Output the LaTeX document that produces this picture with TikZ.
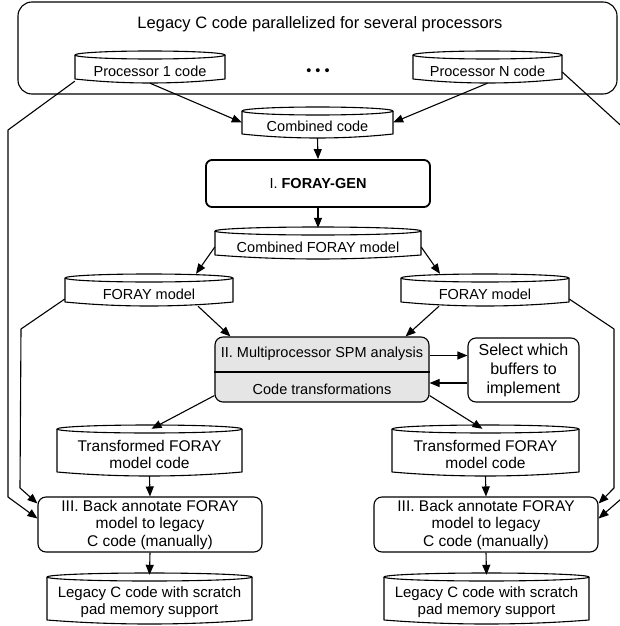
\documentclass[tikz,border=0pt]{standalone}
\usepackage{fontspec}
\setmainfont{Liberation Sans}
\usetikzlibrary{arrows.meta,calc}
\begin{document}
\begin{tikzpicture}[x=1pt,y=-1pt,
  ln/.style={line width=1.1pt, line join=round},
  arr/.style={ln, -{Triangle[length=10pt,width=8pt]}},
  txt/.style={inner sep=0pt, align=center, font=\fontsize{14.5}{17}\selectfont},
  big/.style={font=\fontsize{15.5}{17.5}\selectfont},
  rbox/.style={ln, draw, rounded corners=8pt, inner sep=0pt, align=center, font=\fontsize{14.5}{17}\selectfont},
]
\newcommand\cyl[7][]{%
  \node[txt, #1, minimum width={#3-#2}, minimum height={#5-#4-8}] (#2#3) at ({(#3+#4)/2},{(#5+8+#6)/2}) {#7};
}
\newcommand\cylinder[7][]{%
  \node[txt, #1, minimum width={#4-#3}, minimum height={#6-#5-8}] (#2) at ({(#3+#4)/2},{(#5+8+#6)/2}) {#7};
  \draw[ln] ({(#3+#4)/2},#5+4) ellipse [x radius={(#4-#3)/2}, y radius=4];
  \draw[ln] (#3,#5+4) -- (#3,#6-4) .. controls ({#3+(#4-#3)*0.33},#6+1.33) and ({#4-(#4-#3)*0.33},#6+1.33) .. (#4,#6-4) -- (#4,#5+4);
}
\clip (0,0) rectangle (620,626);
% top frame
\node[rbox, rounded corners=14pt, minimum width=599, minimum height=92] (frame) at (317.5,48) {};
\node[txt, font=\fontsize{16.5}{19}\selectfont] (title) at (320,24) {Legacy C code parallelized for several processors};
\cylinder{p1}{75}{225}{51}{83}{Processor 1 code}
\cylinder{pN}{413}{562}{51}{83}{Processor N code}
\node[txt] (dots) at (318,72) {• • •};
\cylinder{cc}{242}{393}{107}{138}{Combined code}
\node[rbox, line width=1.8pt, rounded corners=6pt, minimum width=224, minimum height=47] (gen) at (318,183.5) {I. \textbf{FORAY-GEN}};
\cylinder{cf}{215}{421}{227}{259}{Combined FORAY model}
\cylinder{fl}{65}{233}{274}{306}{FORAY model}
\cylinder{fr}{401}{569}{274}{306}{FORAY model}
\node[rbox, fill=black!10, minimum width=214, minimum height=65] (spm) at (322,369.5) {};
\draw[ln] ([yshift=-2.5pt]spm.west) -- ([yshift=-2.5pt]spm.east);
\node[txt] (spa) at (322,354) {II. Multiprocessor SPM analysis};
\node[txt] (spb) at (322,389) {Code transformations};
\node[rbox, minimum width=111, minimum height=64, font=\fontsize{16}{19}\selectfont] (sel) at (523.5,370) {Select which\\buffers to\\implement};
\cylinder[big]{tl}{57}{242}{425}{476}{Transformed FORAY\\model code}
\cylinder[big]{tr}{392}{579}{425}{476}{Transformed FORAY\\model code}
\node[rbox, big, minimum width=224, minimum height=55] (bl) at (150,524.5) {III. Back annotate FORAY\\model to legacy\\C code (manually)};
\node[rbox, big, minimum width=224, minimum height=55] (br) at (486,524.5) {III. Back annotate FORAY\\model to legacy\\C code (manually)};
\cylinder[font=\fontsize{15}{17}\selectfont]{ll}{47}{252}{573}{624}{Legacy C code with scratch\\pad memory support}
\cylinder[font=\fontsize{15}{17}\selectfont]{lr}{384}{589}{573}{624}{Legacy C code with scratch\\pad memory support}
% connectors
\draw[arr] (p1.south) -- ([yshift=4pt]cc.west);
\draw[arr] (pN.south) -- ([yshift=4pt]cc.east);
\draw[arr] (cc.south) -- (gen.north);
\draw[arr] (gen.south) -- ([yshift=7pt]cf.north);
\draw[arr] (cf.west) -- ([xshift=47pt,yshift=8pt]fl.north);
\draw[arr] (cf.east) -- ([xshift=-45pt,yshift=8pt]fr.north);
\draw[arr] ([xshift=49pt]fl.south) -- ([xshift=16pt]spm.north west);
\draw[arr] ([xshift=-46pt]fr.south) -- ([xshift=-24pt]spm.north east);
\draw[arr] ([yshift=14pt]spm.east) -- ([yshift=14pt]spm.east -| sel.west);
\draw[arr] ([yshift=-13pt]sel.west) -- ([yshift=-13pt]sel.west -| spm.east);
\draw[arr] ([yshift=7pt]spm.south west) -- ([xshift=2pt,yshift=4pt]tl.north);
\draw[arr] ([yshift=7pt]spm.south east) -- ([xshift=-3pt,yshift=4pt]tr.north);
\draw[arr] (tl.south) -- (bl.north);
\draw[arr] (tr.south) -- (br.north);
\draw[arr] (bl.south) -- ([yshift=6pt]ll.north);
\draw[arr] (br.south) -- ([yshift=6pt]lr.north);
% side connectors
\coordinate (lo1) at (8,130); \coordinate (lo2) at (8,497);
\coordinate (li1) at (21,329); \coordinate (li2) at (20,488);
\coordinate (ri1) at (614,329); \coordinate (ri2) at (614,488);
\coordinate (ro1) at (628,132); \coordinate (ro2) at (628,493);
\draw[arr] ([yshift=2pt]p1.south west) -- (lo1) -- (lo2) -- ([yshift=6pt]bl.west);
\draw[arr] ([yshift=-5pt]fl.west) -- (li1) -- (li2) -- ([yshift=21pt]bl.west);
\draw[arr] ([yshift=-5pt]fr.east) -- (ri1) -- (ri2) -- ([yshift=21pt]br.east);
\draw[arr] ([yshift=-1pt]pN.east) -- (ro1) -- (ro2) -- ([yshift=6pt]br.east);
\end{tikzpicture}
\end{document}
